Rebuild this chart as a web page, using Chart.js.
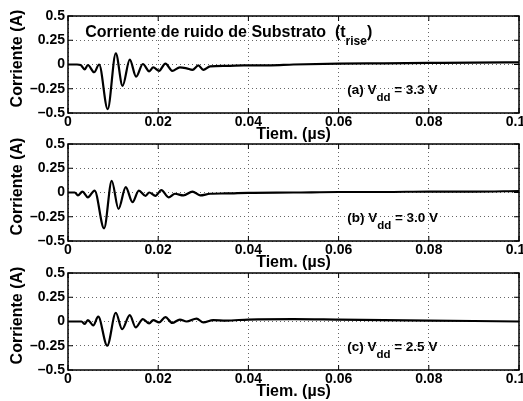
<!DOCTYPE html>
<html>
<head>
<meta charset="utf-8">
<script src="https://cdn.jsdelivr.net/npm/chart.js@4.4.1/dist/chart.umd.min.js"></script>
<style>
  html, body { margin: 0; padding: 0; background: #fff; }
  #wrap { position: relative; width: 523px; height: 401px; overflow: hidden; }
  canvas { position: absolute; left: 0; }
</style>
</head>
<body>
<div id="wrap">
  <canvas id="cA" width="523" height="144" style="top:0px"></canvas>
  <canvas id="cB" width="523" height="144" style="top:128px"></canvas>
  <canvas id="cC" width="523" height="144" style="top:257px"></canvas>
</div>
<script>
// ejes
const X_TICKS = [0, 0.02, 0.04, 0.06, 0.08, 0.1];
const X_TICK_LABELS = ['0', '0.02', '0.04', '0.06', '0.08', '0.1\u2002'];
const Y_TICKS = [0.5, 0.25, 0, -0.25, -0.5];
const Y_TICK_LABELS = ['0.5', '0.25', '0', '–0.25', '–0.5'];

// (a) Vdd = 3.3 V
const T_A = [0, 0.002, 0.0028, 0.0037, 0.0044, 0.0058, 0.0069, 0.0088, 0.0106, 0.0121, 0.0137, 0.0151, 0.0166, 0.018, 0.0189, 0.0202, 0.0216, 0.0231, 0.0248, 0.0263, 0.0276, 0.0289, 0.030, 0.0315, 0.035, 0.039, 0.045, 0.05, 0.06, 0.07, 0.08, 0.09, 0.1];
const I_A = [0, 0, -0.005, -0.05, -0.005, -0.08, 0.0, -0.46, 0.115, -0.22, 0.05, -0.125, 0.005, -0.07, -0.03, -0.065, 0.01, -0.065, -0.03, -0.04, -0.055, -0.01, -0.055, -0.02, -0.015, -0.01, -0.008, 0.0, 0.008, 0.012, 0.016, 0.02, 0.022];

// (b) Vdd = 3.0 V
const T_B = [0, 0.0015, 0.0022, 0.0032, 0.0044, 0.0059, 0.008, 0.0097, 0.0112, 0.0128, 0.0143, 0.0157, 0.0172, 0.018, 0.0194, 0.0207, 0.0223, 0.0237, 0.0256, 0.0276, 0.0293, 0.0315, 0.035, 0.04, 0.05, 0.06, 0.07, 0.08, 0.09, 0.1];
const I_B = [0, 0, -0.03, 0.01, -0.05, 0.02, -0.37, 0.12, -0.17, 0.055, -0.10, 0.02, -0.035, 0.0, -0.035, 0.025, -0.05, -0.013, -0.03, 0.01, -0.03, -0.013, -0.01, -0.003, 0.0, 0.005, 0.005, 0.01, 0.01, 0.015];

// (c) Vdd = 2.5 V
const T_C = [0, 0.003, 0.0037, 0.0044, 0.0056, 0.0067, 0.0087, 0.0106, 0.012, 0.0137, 0.015, 0.0166, 0.018, 0.0189, 0.0202, 0.0216, 0.0231, 0.0248, 0.0263, 0.0285, 0.030, 0.0322, 0.035, 0.04, 0.05, 0.06, 0.07, 0.08, 0.09, 0.1];
const I_C = [0, 0, -0.025, 0.015, -0.04, 0.05, -0.25, 0.09, -0.08, 0.065, -0.06, 0.025, -0.02, 0.015, -0.01, 0.045, -0.015, 0.02, 0.0, 0.03, -0.01, 0.015, 0.01, 0.02, 0.025, 0.02, 0.015, 0.01, 0.005, 0.0];

const PANEL_TAGS = ['(a)', '(b)', '(c)'];
const VDD = ['3.3', '3.0', '2.5'];

const FONT = '"Liberation Sans", Arial, Helvetica, sans-serif';
Chart.defaults.font.family = FONT;
Chart.defaults.color = '#000';

// texto con subindice: partes [texto, esSub]
function drawParts(ctx, x, y, parts, size, subSize, drop) {
    ctx.textAlign = 'left';
    ctx.textBaseline = 'middle';
    parts.forEach(function(p) {
        if (p[1]) {
            ctx.font = 'bold ' + subSize + 'px ' + FONT;
            ctx.fillText(p[0], x, y + drop);
        } else {
            ctx.font = 'bold ' + size + 'px ' + FONT;
            ctx.fillText(p[0], x, y);
        }
        x += ctx.measureText(p[0]).width;
    });
}

function makeDecor(idx) {
    return {
        id: 'decor' + idx,
        afterDraw: function(chart) {
            const ctx = chart.ctx, a = chart.chartArea;
            const xs = chart.scales.x, ys = chart.scales.y;
            ctx.save();
            ctx.strokeStyle = '#000';
            ctx.lineWidth = 1.5;
            ctx.strokeRect(a.left, a.top, a.right - a.left, a.bottom - a.top);
            // marcas hacia adentro
            ctx.lineWidth = 1;
            ctx.beginPath();
            X_TICKS.forEach(function(v) {
                const px = xs.getPixelForValue(v);
                ctx.moveTo(px, a.bottom); ctx.lineTo(px, a.bottom - 5);
                ctx.moveTo(px, a.top); ctx.lineTo(px, a.top + 5);
            });
            Y_TICKS.forEach(function(v) {
                const py = ys.getPixelForValue(v);
                ctx.moveTo(a.left, py); ctx.lineTo(a.left + 5, py);
                ctx.moveTo(a.right, py); ctx.lineTo(a.right - 5, py);
            });
            ctx.stroke();

            ctx.fillStyle = '#000';
            // titulo eje y
            ctx.save();
            ctx.font = 'bold 16px ' + FONT;
            ctx.textAlign = 'center';
            ctx.textBaseline = 'middle';
            ctx.translate(18, (a.top + a.bottom) / 2 - 6);
            ctx.rotate(-Math.PI / 2);
            ctx.fillText('Corriente (A)', 0, 0);
            ctx.restore();

            // etiqueta Vdd
            drawParts(ctx, xs.getPixelForValue(0.0619), ys.getPixelForValue(-0.27),
                [[PANEL_TAGS[idx] + ' V', false], ['dd', true], [' = ' + VDD[idx] + ' V', false]], 13.5, 11.5, 7);

            if (idx === 0) {
                drawParts(ctx, xs.getPixelForValue(0.0038), ys.getPixelForValue(0.325),
                    [['Corriente de ruido de Substrato  (t', false], ['rise', true], [')', false]], 16, 12, 9);
            }
            ctx.restore();
        }
    };
}

function buildChart(canvasId, times, values, idx) {
    const pts = times.map(function(t, i) { return {x: t, y: values[i]}; });
    return new Chart(document.getElementById(canvasId), {
        type: 'line',
        data: {
            datasets: [{
                data: pts,
                borderColor: '#000',
                borderWidth: 2.2,
                pointRadius: 0,
                fill: false,
                cubicInterpolationMode: 'monotone'
            }]
        },
        options: {
            responsive: false,
            animation: false,
            devicePixelRatio: 1,
            layout: { padding: { top: 16, right: 4, left: 0, bottom: 0 } },
            plugins: { legend: { display: false }, tooltip: { enabled: false } },
            scales: {
                x: {
                    type: 'linear',
                    min: 0, max: 0.1,
                    afterBuildTicks: function(s) { s.ticks = X_TICKS.map(function(v) { return {value: v}; }); },
                    afterFit: function(s) { s.height = 31; s.paddingLeft = 0; s.paddingRight = 0; },
                    grid: { color: '#666', lineWidth: 1, drawTicks: false },
                    border: { display: false, dash: [1, 3] },
                    ticks: {
                        padding: 1,
                        maxRotation: 0,
                        autoSkip: false,
                        font: { size: 14, weight: 'bold' },
                        callback: function(v, i) { return X_TICK_LABELS[i]; }
                    },
                    title: { display: true, text: 'Tiem. (µs)', padding: 0, font: { size: 16, weight: 'bold' } }
                },
                y: {
                    min: -0.5, max: 0.5,
                    afterBuildTicks: function(s) { s.ticks = Y_TICKS.slice().reverse().map(function(v) { return {value: v}; }); },
                    afterFit: function(s) { s.width = 68; s.paddingTop = 0; s.paddingBottom = 0; },
                    grid: { color: '#666', lineWidth: 1, drawTicks: false },
                    border: { display: false, dash: [1, 3] },
                    ticks: {
                        padding: 3,
                        autoSkip: false,
                        font: { size: 14, weight: 'bold' },
                        callback: function(v) { return Y_TICK_LABELS[Y_TICKS.indexOf(v)]; }
                    }
                }
            }
        },
        plugins: [makeDecor(idx)]
    });
}

buildChart('cA', T_A, I_A, 0);
buildChart('cB', T_B, I_B, 1);
buildChart('cC', T_C, I_C, 2);
</script>
</body>
</html>
